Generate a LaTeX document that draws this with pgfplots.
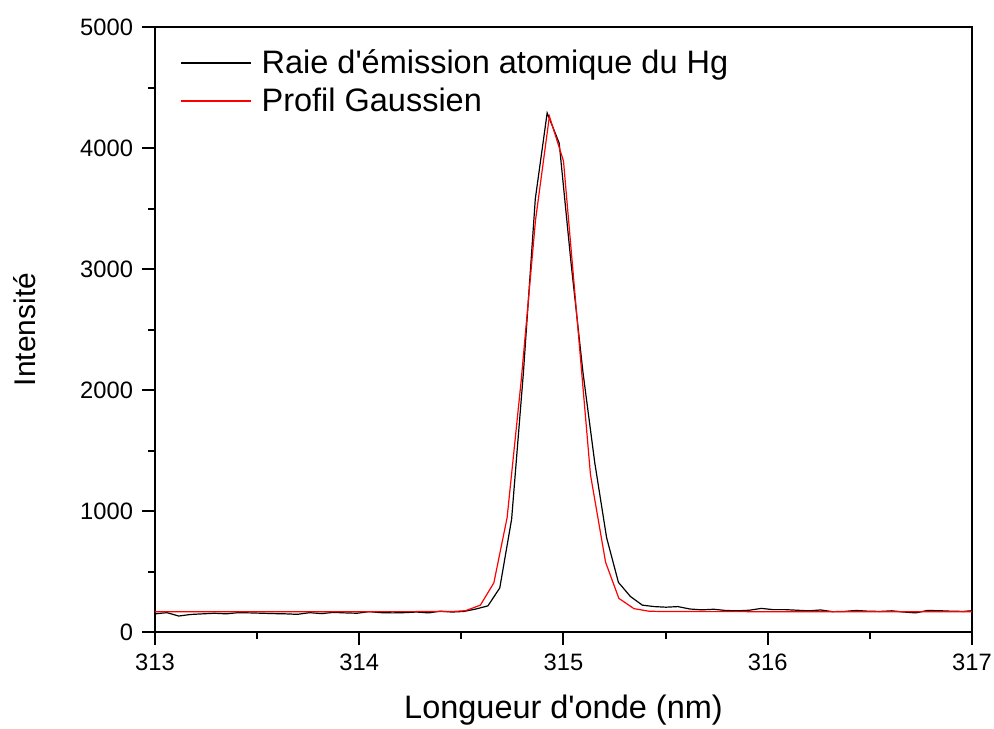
\documentclass[border=0pt]{standalone}
\usepackage{pgfplots}
\pgfplotsset{compat=1.18}
\usepackage{fontspec}
\setmainfont{Liberation Sans}

\begin{document}
\begin{tikzpicture}
	\begin{axis}[
		at={(0,0)}, anchor=south west,
		scale only axis,
		width=408.5bp,
		height=302.5bp,
		xmin=313, xmax=317,
		ymin=0, ymax=5000,
		xtick={313,314,...,317},
		ytick={0,1000,...,5000},
		minor x tick num=1,
		minor y tick num=1,
		tick align=outside,
		tick pos=left,
		major tick length=6.5bp,
		minor tick length=3.5bp,
		every tick/.style={line width=1bp, black},
		axis line style={line width=1bp},
		scaled ticks=false,
		/pgf/number format/1000 sep={},
		/pgf/number format/assume math mode=true,
		tick label style={font=\fontsize{11.9}{14}\selectfont},
		xticklabel style={yshift=-1bp},
		yticklabel style={xshift=-1bp},
		xlabel={Longueur d\textquotesingle onde (nm)},
		ylabel={Intensité},
		every axis x label/.style={at={([yshift=-39bp]axis description cs:0.5,0)}, anchor=center, font=\fontsize{16.3}{19}\selectfont},
		every axis y label/.style={at={([xshift=-65bp]axis description cs:0,0.5)}, anchor=center, rotate=90, font=\fontsize{15}{18}\selectfont},
		legend cell align={left},
		legend style={
			at={(0,1)}, anchor=north west, xshift=12.5bp, yshift=-9bp,
			draw=none, fill=none, inner sep=0pt,
			font=\fontsize{16.3}{19}\selectfont,
			row sep=1.8bp,
		},
		legend image code/.code={\draw[#1, line width=0.7bp] (0bp,0bp) -- (35bp,0bp); \path (38bp,0bp);},
		clip=true,
	]
		% raw emission line (black)
		\addplot[draw=black, line width=0.6bp] coordinates {
			(313.000,150) (313.058,160) (313.116,132) (313.175,145) (313.233,150)
			(313.291,155) (313.349,150) (313.407,160) (313.466,158) (313.524,155)
			(313.582,152) (313.640,150) (313.698,146) (313.757,160) (313.815,152)
			(313.873,162) (313.931,158) (313.989,155) (314.048,168) (314.106,160)
			(314.164,158) (314.222,160) (314.280,165) (314.339,158) (314.397,172)
			(314.455,165) (314.513,170) (314.571,190) (314.630,216) (314.688,364)
			(314.746,932) (314.804,2150) (314.862,3580) (314.920,4290) (314.979,4040)
			(315.037,3050) (315.095,2150) (315.153,1400) (315.211,780) (315.269,410)
			(315.328,293) (315.386,222) (315.444,210) (315.502,205) (315.560,210)
			(315.619,190) (315.677,183) (315.735,188) (315.793,178) (315.851,175)
			(315.910,180) (315.968,195) (316.026,185) (316.084,185) (316.142,180)
			(316.201,175) (316.259,182) (316.317,168) (316.375,170) (316.433,178)
			(316.491,172) (316.550,170) (316.608,175) (316.666,165) (316.724,158)
			(316.782,178) (316.840,176) (316.898,172) (316.958,170) (317.016,178)
		};
		\addlegendentry{Raie d\textquotesingle émission atomique du Hg}
		% gaussian fit (red)
		\addplot[draw=red, line width=0.6bp] coordinates {
			(313.000,168) (313.500,168) (314.000,168) (314.452,169)
			(314.520,176) (314.593,222) (314.659,406) (314.724,946) (314.793,2080)
			(314.863,3403) (314.931,4262) (315.000,3892) (315.066,2600) (315.132,1301)
			(315.206,577) (315.271,278) (315.345,193) (315.418,172) (315.487,169)
			(316.000,168) (316.500,168) (317.000,168)
		};
		\addlegendentry{Profil Gaussien}
	\end{axis}
	\pgfresetboundingbox
	\useasboundingbox (-77.5bp,-48.5bp) rectangle (419.5bp,316bp);
\end{tikzpicture}
\end{document}
